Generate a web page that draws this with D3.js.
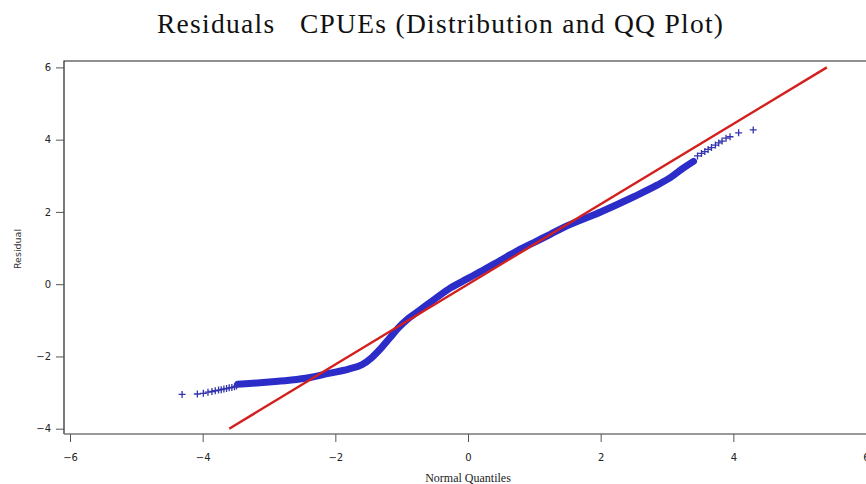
<!DOCTYPE html>
<html>
<head>
  <meta charset="utf-8">
  <title>Residuals CPUEs QQ plot</title>
  <script src="https://d3js.org/d3.v7.min.js"></script>
  <style>
    body { margin: 0; background: #fff; }
    .tick text { font-family: "DejaVu Sans", sans-serif; font-size: 10px; fill: #222; }
    .title { font-family: "Liberation Serif", serif; font-size: 27.5px; fill: #111; white-space: pre; }
    .xlab { font-family: "Liberation Serif", serif; font-size: 12px; fill: #222; }
    .ylab { font-family: "DejaVu Sans", sans-serif; font-size: 9.5px; fill: #333; }
  </style>
</head>
<body>
<div id="chart"></div>
<script>

  // ticks
  var xTicks = [-6, -4, -2, 0, 2, 4, 6];
  var yTicks = [-4, -2, 0, 2, 4, 6];

  // dense middle of the sample quantiles
  var bandX = [-3.47, -3.3, -3.0, -2.7, -2.4, -2.1, -1.8, -1.6, -1.45, -1.3, -1.18, -1.05, -0.9, -0.72, -0.5, -0.27, 0, 0.18, 0.48, 0.75, 1.0, 1.24, 1.5, 2.0, 2.5, 2.85, 3.05, 3.25, 3.4];
  var bandY = [-2.77, -2.75, -2.71, -2.66, -2.59, -2.47, -2.35, -2.23, -2.03, -1.75, -1.49, -1.21, -0.95, -0.71, -0.41, -0.11, 0.16, 0.34, 0.65, 0.93, 1.16, 1.38, 1.62, 2.0, 2.42, 2.74, 2.95, 3.22, 3.40];

  // single points in the tails
  var lowX = [-4.31, -4.08, -3.99, -3.92, -3.86, -3.81, -3.76, -3.72, -3.68, -3.64, -3.60, -3.56, -3.52, -3.49];
  var lowY = [-3.05, -3.04, -3.02, -2.99, -2.97, -2.95, -2.93, -2.92, -2.90, -2.89, -2.87, -2.86, -2.84, -2.82];
  var highX = [3.46, 3.52, 3.57, 3.62, 3.67, 3.73, 3.78, 3.83, 3.89, 3.95, 4.08, 4.30];
  var highY = [3.55, 3.62, 3.67, 3.73, 3.78, 3.85, 3.91, 3.96, 4.04, 4.08, 4.19, 4.27];

  // reference line
  var refX = [-3.6, 5.41];
  var refY = [-4.0, 6.0];

  var width = 866, height = 484;
  var frame = {left: 64, top: 61, right: 872, bottom: 434};

  var svg = d3.select("#chart").append("svg")
          .attr("width", width).attr("height", height);

  var x = d3.scaleLinear().domain([-6, 6]).range([70, 866]);
  var y = d3.scaleLinear().domain([-4, 6]).range([428.7, 67.4]);

  //title
  svg.append("text").attr("class", "title")
          .attr("x", 440).attr("y", 33).attr("text-anchor", "middle")
          .attr("textLength", 566).attr("lengthAdjust", "spacing")
          .text("Residuals   CPUEs (Distribution and QQ Plot)");

  //frame
  svg.append("path")
          .attr("d", "M" + frame.right + "," + frame.top + "H" + frame.left + "V" + frame.bottom)
          .attr("fill", "none").attr("stroke", "#222").attr("stroke-width", 1.2);

  //axes
  var fmt = function(d) { return d < 0 ? "\u2212" + (-d) : d; };
  var xAxis = svg.append("g")
          .attr("transform", "translate(0," + frame.bottom + ")")
          .call(d3.axisBottom(x).tickValues(xTicks).tickSize(8).tickPadding(12).tickFormat(fmt));
  xAxis.select(".domain").attr("stroke", "#777").attr("stroke-width", 1.5)
          .attr("d", "M" + frame.left + ",0H" + frame.right);
  xAxis.selectAll(".tick line").attr("stroke", "#555");

  var yAxis = svg.append("g")
          .attr("transform", "translate(" + frame.left + ",0)")
          .call(d3.axisLeft(y).tickValues(yTicks).tickSize(8).tickPadding(5).tickFormat(fmt));
  yAxis.select(".domain").remove();
  yAxis.selectAll(".tick line").attr("stroke", "#555");

  //axis titles
  svg.append("text").attr("class", "xlab")
          .attr("x", 468).attr("y", 482).attr("text-anchor", "middle")
          .text("Normal Quantiles");
  svg.append("text").attr("class", "ylab")
          .attr("transform", "translate(21,249)rotate(-90)")
          .attr("text-anchor", "middle")
          .text("Residual");

  var blue = "#2c2cc8";

  //dense band
  var band = d3.zip(bandX, bandY);
  svg.append("path")
          .datum(band)
          .attr("fill", "none").attr("stroke", blue)
          .attr("stroke-width", 7).attr("stroke-linecap", "round").attr("stroke-linejoin", "round")
          .attr("d", d3.line().x(function(d) { return x(d[0]); }).y(function(d) { return y(d[1]); })
                  .curve(d3.curveMonotoneX));

  //tail points as plus signs
  var pts = d3.zip(lowX, lowY).concat(d3.zip(highX, highY));
  svg.append("g").selectAll("path.pt")
          .data(pts)
          .enter().append("path")
          .attr("class", "pt")
          .attr("transform", function(d) { return "translate(" + x(d[0]) + "," + y(d[1]) + ")"; })
          .attr("d", "M-3.5,0H3.5M0,-3.5V3.5")
          .attr("stroke", "#3333b0").attr("stroke-width", 1.3).attr("fill", "none");

  //reference line
  svg.append("line")
          .attr("x1", x(refX[0])).attr("y1", y(refY[0]))
          .attr("x2", x(refX[1])).attr("y2", y(refY[1]))
          .attr("stroke", "#d41f1f").attr("stroke-width", 2.4);

</script>
</body>
</html>
